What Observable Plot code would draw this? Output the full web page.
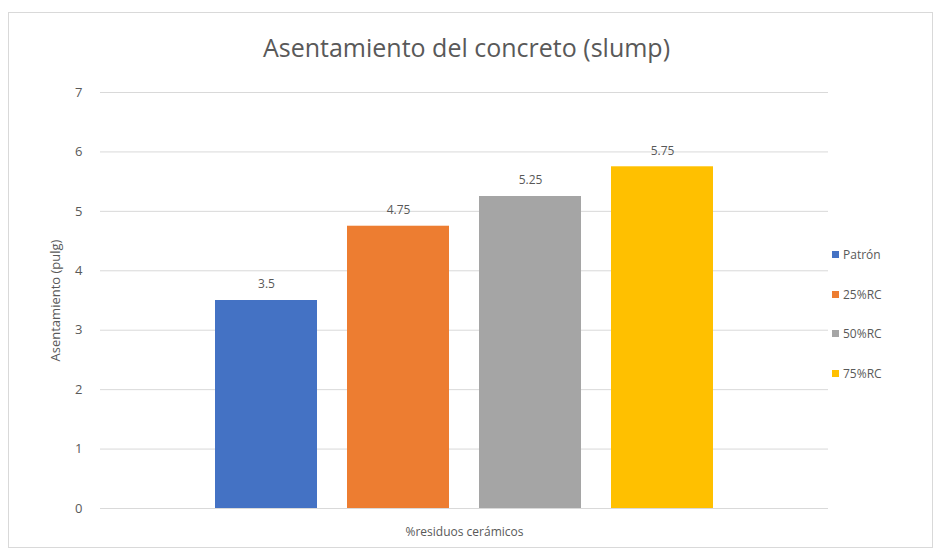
<!DOCTYPE html>
<html><head><meta charset="utf-8">
<script src="https://cdn.jsdelivr.net/npm/d3@7"></script>
<script src="https://cdn.jsdelivr.net/npm/@observablehq/plot@0.6"></script>
<style>
body{margin:0;background:#fff;font-family:"Open Sans",sans-serif;}
#wrap{position:relative;width:943px;height:556px;}
#frame{position:absolute;left:8px;top:12px;width:925px;height:536px;border:1px solid #d9d9d9;box-sizing:border-box;}
#title{position:absolute;left:0;width:933px;top:30px;text-align:center;font-size:25px;color:#595959;line-height:34px;}
#chart{position:absolute;left:0;top:0;}
#legend{position:absolute;left:832px;top:246px;font-size:12px;color:#595959;}
#legend div{height:39.5px;display:flex;align-items:flex-start;}
#legend span.sw{display:inline-block;width:7px;height:7px;margin-right:4px;margin-top:5px;}
</style></head>
<body>
<div id="wrap">
<div id="frame"></div>
<div id="title">Asentamiento del concreto (slump)</div>
<div id="chart"></div>
<div id="legend"></div>
</div>
<script>
const series = ["Patrón", "25%RC", "50%RC", "75%RC"];
const values = [3.5, 4.75, 5.25, 5.75];
const colors = ["#4472C4", "#ED7D31", "#A5A5A5", "#FFC000"];
const yTicks = [0, 1, 2, 3, 4, 5, 6, 7];
const categoryLabel = "%residuos cerámicos";
const yLabel = "Asentamiento (pulg)";

const data = series.map((s, i) => ({series: s, value: values[i]}));

const chart = Plot.plot({
  width: 943,
  height: 556,
  marginTop: 92,
  marginBottom: 48,
  marginLeft: 100,
  marginRight: 115,
  style: {fontFamily: "Open Sans, sans-serif", fontSize: "12px", color: "#595959", background: "transparent"},
  x: {domain: series, paddingInner: 0.2256, paddingOuter: 0.85, axis: null},
  y: {domain: [0, 7]},
  color: {domain: series, range: colors},
  marks: [
    Plot.gridY(yTicks, {stroke: "#d9d9d9", strokeOpacity: 1}),
    Plot.axisY(yTicks, {tickSize: 0, tickPadding: 18, tickFormat: d3.format("d"), fontSize: 13, label: yLabel, labelAnchor: "center", labelArrow: "none", labelOffset: 50, fill: "#595959"}),
    Plot.barY(data, {x: "series", y: "value", fill: "series"}),
    Plot.text(data, {x: "series", y: "value", text: d => String(d.value), dy: -16, fill: "#595959", fontSize: 12}),
    Plot.text([categoryLabel], {frameAnchor: "bottom", dy: 27, fill: "#595959", fontSize: 12})
  ]
});
document.getElementById("chart").appendChild(chart);

const lg = document.getElementById("legend");
series.forEach((s, i) => {
  const d = document.createElement("div");
  const sw = document.createElement("span");
  sw.className = "sw";
  sw.style.background = colors[i];
  d.appendChild(sw);
  d.appendChild(document.createTextNode(s));
  lg.appendChild(d);
});
</script>
</body></html>
